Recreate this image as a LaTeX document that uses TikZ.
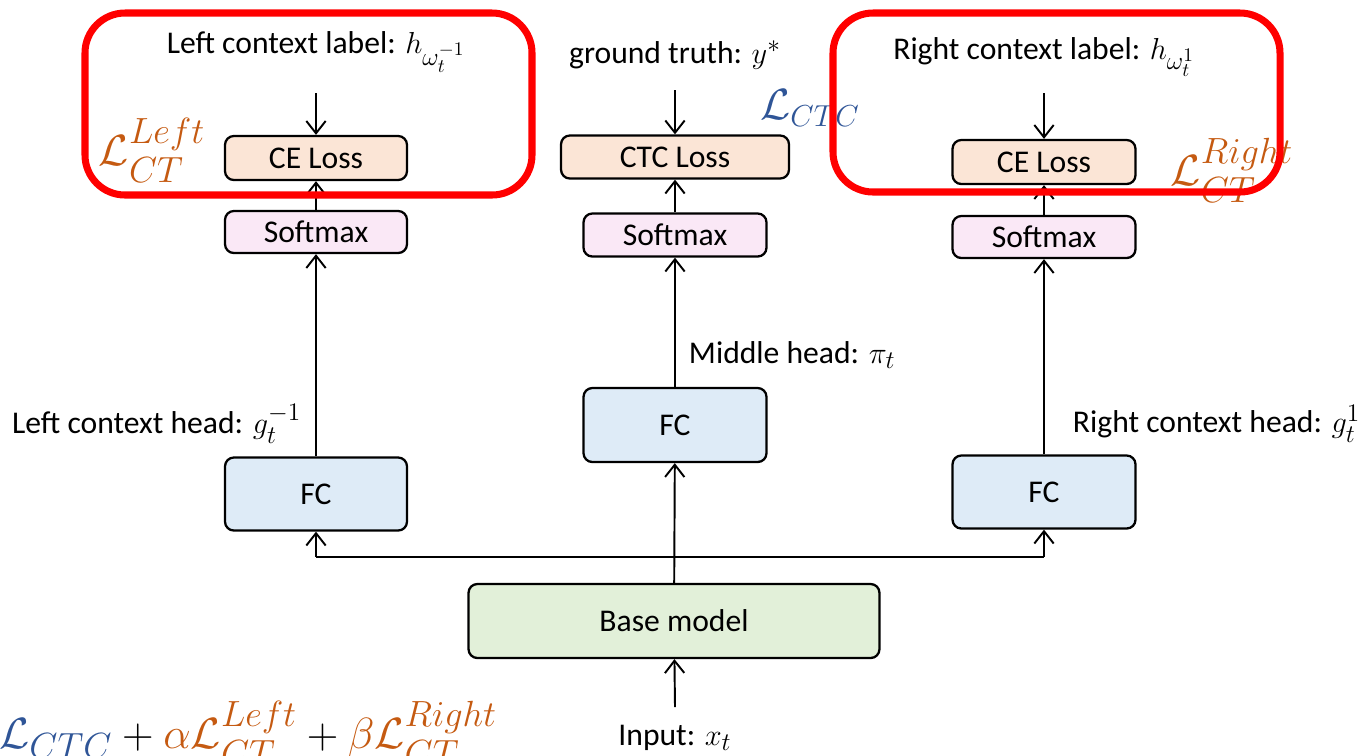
\documentclass[tikz,border=0pt]{standalone}
\usepackage{amsmath}
\usepackage{fontspec}
\setmainfont{Carlito}
\usetikzlibrary{arrows.meta}
\renewcommand\defaultscriptratio{.74}
\renewcommand\defaultscriptscriptratio{.6}
\definecolor{ctcblue}{RGB}{47,85,151}
\definecolor{ctorange}{RGB}{197,90,17}
\definecolor{lossfill}{RGB}{251,229,214}
\definecolor{softfill}{RGB}{250,232,246}
\definecolor{fcfill}{RGB}{222,235,247}
\definecolor{basefill}{RGB}{226,240,217}

\begin{document}
\begin{tikzpicture}[x=0.02cm,y=-0.02cm,>={Straight Barb[length=7pt,width=11pt]},line width=1.1pt,
    blk/.style={draw,rounded corners=5pt,line width=1.3pt,inner sep=0pt,font=\fontsize{18}{21}\selectfont},
    lbl/.style={inner sep=0pt,font=\fontsize{18}{21}\selectfont},
    lossmath/.style={inner sep=0pt,font=\fontsize{27}{32}\selectfont}]
    \useasboundingbox (0,0) rectangle (1362,755);
    \clip (0,0) rectangle (1362,755);

    % Left branch
    \node[blk,fill=lossfill,minimum width=3.64cm,minimum height=0.88cm] (ceL) at (316,158) {CE Loss};
    \node[blk,fill=softfill,minimum width=3.64cm,minimum height=0.84cm] (smL) at (316,232) {Softmax};
    \node[blk,fill=fcfill,minimum width=3.64cm,minimum height=1.46cm] (fcL) at (316,494) {FC};

    % Middle branch
    \node[blk,fill=lossfill,minimum width=4.56cm,minimum height=0.86cm] (ctc) at (675,157) {CTC Loss};
    \node[blk,fill=softfill,minimum width=3.66cm,minimum height=0.86cm] (smM) at (675,235) {Softmax};
    \node[blk,fill=fcfill,minimum width=3.66cm,minimum height=1.48cm] (fcM) at (675,425) {FC};
    \node[blk,fill=basefill,minimum width=8.22cm,minimum height=1.48cm] (base) at (674,621) {Base model};

    % Right branch
    \node[blk,fill=lossfill,minimum width=3.66cm,minimum height=0.88cm] (ceR) at (1044,162) {CE Loss};
    \node[blk,fill=softfill,minimum width=3.66cm,minimum height=0.84cm] (smR) at (1044,237) {Softmax};
    \node[blk,fill=fcfill,minimum width=3.66cm,minimum height=1.46cm] (fcR) at (1044,492) {FC};

    % Labels
    \node[lbl] (labL) at (316,52) {Left context label: $h_{\omega_t^{-1}}$};
    \node[lbl] (labM) at (675,55) {ground truth: $y^*$};
    \node[lbl] (labR) at (1044,57) {Right context label: $h_{\omega_t^{1}}$};
    \node[lbl,anchor=east] (headL) at (302,424) {Left context head: $g_t^{-1}$};
    \node[lbl,anchor=west] (headM) at (688,355) {Middle head: $\pi_t$};
    \node[lbl,anchor=west] (headR) at (1072,424) {Right context head: $g_t^{1}$};
    \node[lbl] (inp) at (675,738) {Input: $x_t$};

    % Loss names
    \node[lossmath,text=ctcblue,font=\fontsize{25}{30}\selectfont] (lctc) at (810,108) {$\mathcal{L}_{CTC}$};
    \node[lossmath,text=ctorange] (lleft) at (152,150) {$\mathcal{L}_{CT}^{Left}$};
    \node[lossmath,text=ctorange] (lright) at (1232,170) {$\mathcal{L}_{CT}^{Right}$};
    \node[lossmath,font=\fontsize{28}{33}\selectfont,anchor=east] (total) at (498,733) {$\textcolor{ctcblue}{\mathcal{L}_{CTC}}+\textcolor{ctorange}{\alpha\mathcal{L}_{CT}^{Left}}+\textcolor{ctorange}{\beta\mathcal{L}_{CT}^{Right}}$};

    % Connectors
    \coordinate (tL) at (316,93);
    \coordinate (tM) at (675,90);
    \coordinate (tR) at (1044,93);
    \coordinate (busL) at (316,557);
    \coordinate (busM) at (675,557);
    \coordinate (busR) at (1044,557);
    \coordinate (inTop) at (675,707);
    \draw[->] (tL) -- (ceL);
    \draw[->] (tM) -- (ctc);
    \draw[->] (tR) -- (ceR);
    \draw[->] (smL) -- (ceL);
    \draw[->] (smM) -- (ctc);
    \draw[->] (smR) -- (ceR);
    \draw[->] (fcL) -- (smL);
    \draw[->] (fcM) -- (smM);
    \draw[->] (fcR) -- (smR);
    \draw (busL) -- (busR);
    \draw[->] (base) -- (fcM);
    \draw[->] (busL) -- (fcL);
    \draw[->] (busR) -- (fcR);
    \draw[->] (inTop) -- (base);

    % Highlight boxes
    \draw[red,line width=4pt,rounded corners=0.8cm] (85,13) rectangle (532,195);
    \draw[red,line width=4pt,rounded corners=0.8cm] (833,13) rectangle (1280,192);
\end{tikzpicture}
\end{document}
